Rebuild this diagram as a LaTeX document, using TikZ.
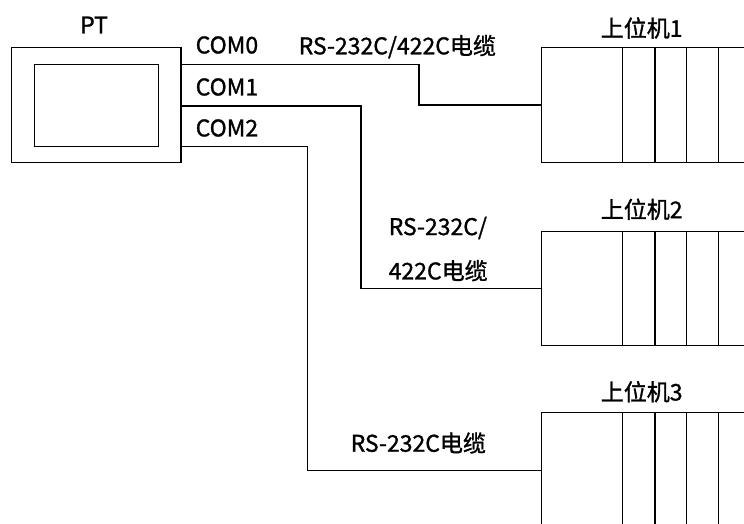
\documentclass[tikz,border=0pt]{standalone}
\usepackage{fontspec}
\setmainfont[FakeBold=1.2]{Noto Sans CJK SC}
\begin{document}
\begin{tikzpicture}[x=1pt,y=-1pt,line width=1.4pt,
  lbl/.style={font=\fontsize{23}{27}\selectfont,inner sep=0pt},
  box/.style={draw,rectangle,inner sep=0pt},
  host/.style={box,minimum width=238.3pt}]
\clip (0,0) rectangle (744,524);
\fill[white] (0,0) rectangle (744,524);
% PT terminal
\node[box,minimum width=169.3pt,minimum height=115pt] (pt) at (96.35,105.2) {};
\node[box,minimum width=124pt,minimum height=82.4pt] (screen) at (96.3,105.5) {};
\node[lbl] (ptl) at (94,25) {PT};
% hosts
\node[host,minimum height=115pt] (h1) at (660.85,105.2) {};
\node[host,minimum height=114pt] (h2) at (660.85,288.7) {};
\node[host,minimum height=115pt] (h3) at (660.85,470.2) {};
\foreach \h in {h1,h2,h3}{
  \foreach \d in {81.6,114,145.6,177.6}{
    \draw ([xshift=\d pt]\h.north west) -- ([xshift=\d pt]\h.south west);
  }
}
\node[lbl] (h1l) at (641.7,28) {上位机1};
\node[lbl] (h2l) at (641.7,209.3) {上位机2};
\node[lbl] (h3l) at (641.7,391.7) {上位机3};
% ports
\node[lbl,anchor=west] (c0) at (195,45) {COM0};
\node[lbl,anchor=west] (c1) at (195,87) {COM1};
\node[lbl,anchor=west] (c2) at (195,128) {COM2};
% cables
\draw (pt.east |- 0,64.3) -| (419,105.2) -- (h1.west);
\draw (pt.east |- 0,106) -| (361,288.7) -- (h2.west);
\draw (pt.east |- 0,146.7) -| (307.7,470.2) -- (h3.west);
\node[lbl,anchor=west] (k1) at (298,46.7) {RS-232C/422C电缆};
\node[lbl,anchor=west] (k2a) at (388,228) {RS-232C/};
\node[lbl,anchor=west] (k2b) at (388,270.7) {422C电缆};
\node[lbl,anchor=west] (k3) at (350,443) {RS-232C电缆};
\end{tikzpicture}
\end{document}
